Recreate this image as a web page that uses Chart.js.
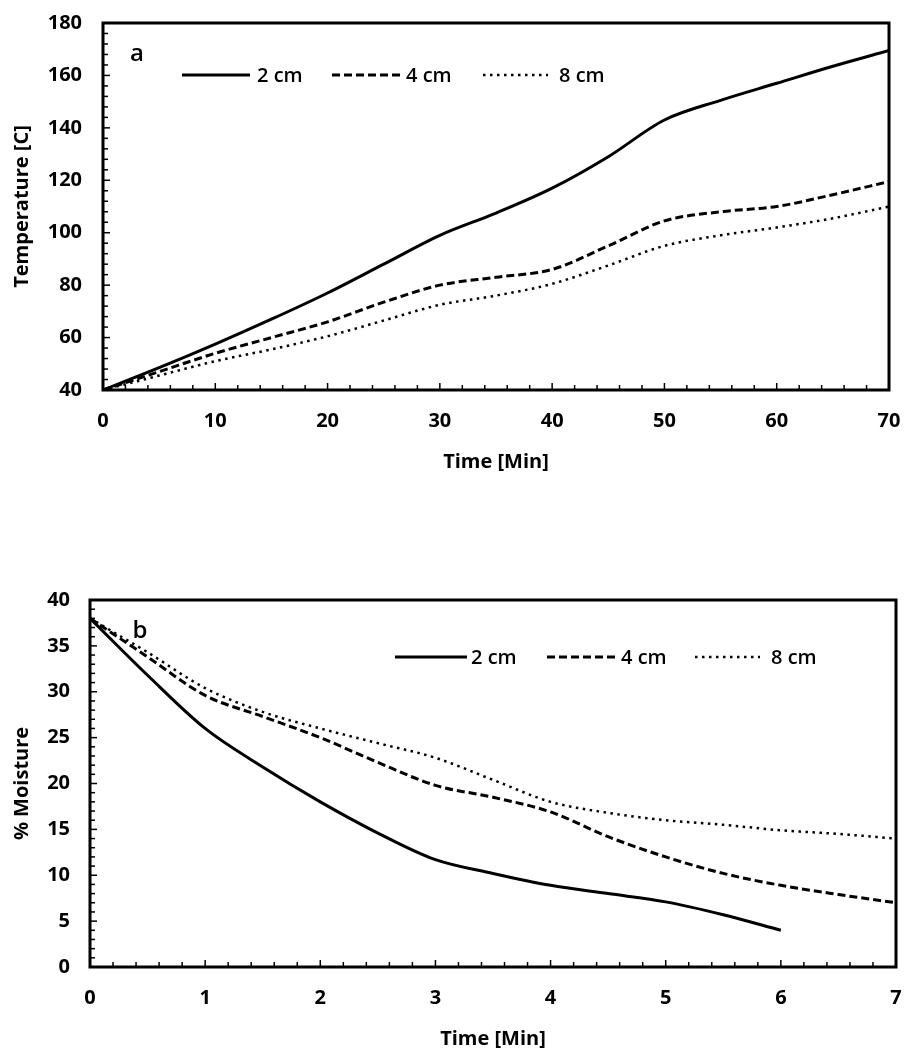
<!DOCTYPE html>
<html>
<head>
<meta charset="utf-8">
<script src="https://cdn.jsdelivr.net/npm/chart.js@4.4.1/dist/chart.umd.min.js"></script>
<style>
    body { margin: 0; background: #fff; width: 905px; height: 1050px; position: relative; overflow: hidden; }
    .box { position: absolute; left: 0; width: 905px; }
    #boxA { top: 0; height: 480px; }
    #boxB { top: 580px; height: 470px; }
</style>
</head>
<body>
<div class="box" id="boxA"><canvas id="tempChart"></canvas></div>
<div class="box" id="boxB"><canvas id="moistChart"></canvas></div>
<script>
// Panel a - temperature vs time
const tempTimes = [0, 5, 10, 15, 20, 25, 30, 35, 40, 45, 50, 55, 60, 65, 70];
const temp2cm = [40, 48.5, 57.5, 67, 77, 88, 99, 107.5, 117, 129, 143, 150.5, 157, 163.5, 169.5];
const temp4cm = [40, 47, 54, 60, 66, 73.5, 80, 83, 86, 95, 104.5, 108, 110, 114.5, 119.5];
const temp8cm = [40, 45.5, 51, 55.5, 60.5, 66.5, 72.5, 76, 80.5, 87.5, 95, 99, 102, 105.5, 110];

// Panel b - moisture vs time
const moistTimes = [0, 0.5, 1, 1.5, 2, 2.5, 3, 3.5, 4, 4.5, 5, 5.5, 6, 6.5, 7];
const moist2cm = [38, 31.8, 26, 21.8, 18, 14.6, 11.7, 10.2, 8.9, 8.0, 7.1, 5.7, 4.0];
const moist4cm = [38, 33.8, 29.6, 27.3, 25, 22.3, 19.8, 18.5, 16.9, 14.2, 12, 10.2, 8.9, 7.9, 7.0];
const moist8cm = [38, 34.3, 30.4, 27.8, 26, 24.4, 22.8, 20.4, 18, 16.8, 16, 15.5, 14.9, 14.5, 14];

const seriesLabels = ['2 cm', '4 cm', '8 cm'];

Chart.defaults.font.family = '"Open Sans", "DejaVu Sans", sans-serif';
Chart.defaults.color = '#000';

function toPoints(xs, ys) {
    return ys.map((y, i) => ({ x: xs[i], y: y }));
}

function makeDatasets(xs, lists) {
    const dashes = [[], [8, 4], [2.5, 4.5]];
    const widths = [3, 3, 2.5];
    return lists.map((ys, i) => ({
        label: seriesLabels[i],
        data: toPoints(xs, ys),
        borderColor: '#000',
        borderWidth: widths[i],
        borderDash: dashes[i],
        pointRadius: 0,
        fill: false,
        cubicInterpolationMode: 'monotone'
    }));
}

// draws the box, inward tick marks, inline legend and panel letter
const framePlugin = {
    id: 'frame',
    afterDatasetsDraw(chart, args, opts) {
        const { ctx, chartArea: a, scales } = chart;
        ctx.save();
        ctx.strokeStyle = '#000';
        ctx.lineWidth = 1.5;
        ctx.setLineDash([]);

        const xs = scales.x, ys = scales.y;
        const nx = Math.round((xs.max - xs.min) / opts.xMinor);
        for (let i = 0; i <= nx; i++) {
            const px = xs.getPixelForValue(xs.min + i * opts.xMinor);
            const len = i % opts.xEvery === 0 ? 7 : 5;
            ctx.beginPath();
            ctx.moveTo(px, a.bottom);
            ctx.lineTo(px, a.bottom - len);
            ctx.stroke();
        }
        const ny = Math.round((ys.max - ys.min) / opts.yMinor);
        for (let i = 0; i <= ny; i++) {
            const py = ys.getPixelForValue(ys.min + i * opts.yMinor);
            const len = i % opts.yEvery === 0 ? 7 : 5;
            ctx.beginPath();
            ctx.moveTo(a.left, py);
            ctx.lineTo(a.left + len, py);
            ctx.stroke();
        }

        ctx.lineWidth = 3;
        ctx.strokeRect(a.left, a.top, a.right - a.left, a.bottom - a.top);

        // legend
        const lg = opts.legend;
        ctx.font = '600 20px "Open Sans"';
        ctx.textBaseline = 'middle';
        ctx.textAlign = 'left';
        chart.data.datasets.forEach((ds, i) => {
            ctx.lineWidth = ds.borderWidth;
            ctx.setLineDash(ds.borderDash);
            ctx.beginPath();
            ctx.moveTo(lg.lineStart[i], lg.y);
            ctx.lineTo(lg.lineEnd[i], lg.y);
            ctx.stroke();
            ctx.fillStyle = '#000';
            ctx.fillText(ds.label, lg.textX[i], lg.y + 1);
        });
        ctx.setLineDash([]);

        // panel letter
        ctx.font = '600 24px "Open Sans"';
        ctx.textAlign = 'center';
        ctx.fillText(opts.letter.text, opts.letter.x, opts.letter.y);
        ctx.restore();
    }
};

function axisFont() {
    return { size: 20, weight: 'bold' };
}

// invisible tick marks, only used to push the labels away from the frame
function spacer(len) {
    return { display: true, drawOnChartArea: false, drawTicks: true, tickLength: len, color: 'rgba(0,0,0,0)' };
}

function buildChart(id, cfg) {
    return new Chart(document.getElementById(id), {
        type: 'line',
        data: { datasets: cfg.datasets },
        options: {
            responsive: true,
            maintainAspectRatio: false,
            devicePixelRatio: 1,
            animation: false,
            layout: { padding: cfg.padding },
            plugins: {
                legend: { display: false },
                tooltip: { enabled: false },
                frame: cfg.frame
            },
            scales: {
                x: {
                    type: 'linear',
                    min: cfg.xMin, max: cfg.xMax,
                    grid: spacer(cfg.xTickLen),
                    border: { display: false },
                    ticks: { stepSize: cfg.xStep, padding: 0, font: axisFont(), maxRotation: 0 },
                    title: { display: true, text: 'Time [Min]', font: { size: 20, weight: 'bold', lineHeight: 1 }, padding: { top: 0, bottom: cfg.xTitlePad } },
                    afterFit: s => { s.height = cfg.xHeight; }
                },
                y: {
                    min: cfg.yMin, max: cfg.yMax,
                    grid: spacer(cfg.yTickLen),
                    border: { display: false },
                    ticks: { stepSize: cfg.yStep, padding: 0, font: axisFont() },
                    title: { display: true, text: cfg.yTitle, font: axisFont(), padding: { top: cfg.yTitlePad, bottom: 0 } },
                    afterFit: s => { s.width = cfg.yWidth; }
                }
            }
        },
        plugins: [framePlugin]
    });
}

buildChart('tempChart', {
    datasets: makeDatasets(tempTimes, [temp2cm, temp4cm, temp8cm]),
    padding: { top: 23, right: 16, left: 0, bottom: 0 },
    xMin: 0, xMax: 70, xStep: 10,
    yMin: 40, yMax: 180, yStep: 20,
    xTickLen: 19, xTitlePad: 8, xHeight: 90,
    yTickLen: 21, yTitlePad: 10, yWidth: 103,
    yTitle: 'Temperature [C]',
    frame: {
        xMinor: 2, xEvery: 5, yMinor: 4, yEvery: 5,
        legend: { y: 75, lineStart: [182, 332, 483], lineEnd: [250, 400, 548], textX: [257, 406, 559] },
        letter: { text: 'a', x: 137, y: 54 }
    }
});

buildChart('moistChart', {
    datasets: makeDatasets(moistTimes, [moist2cm, moist4cm, moist8cm]),
    padding: { top: 20, right: 9, left: 0, bottom: 0 },
    xMin: 0, xMax: 7, xStep: 1,
    yMin: 0, yMax: 40, yStep: 5,
    xTickLen: 19, xTitlePad: 1, xHeight: 83,
    yTickLen: 20, yTitlePad: 10, yWidth: 90,
    yTitle: '% Moisture',
    frame: {
        xMinor: 0.2, xEvery: 5, yMinor: 1, yEvery: 5,
        legend: { y: 77, lineStart: [395, 547, 695], lineEnd: [467, 617, 760], textX: [471, 621, 771] },
        letter: { text: 'b', x: 140, y: 51 }
    }
});
</script>
</body>
</html>
